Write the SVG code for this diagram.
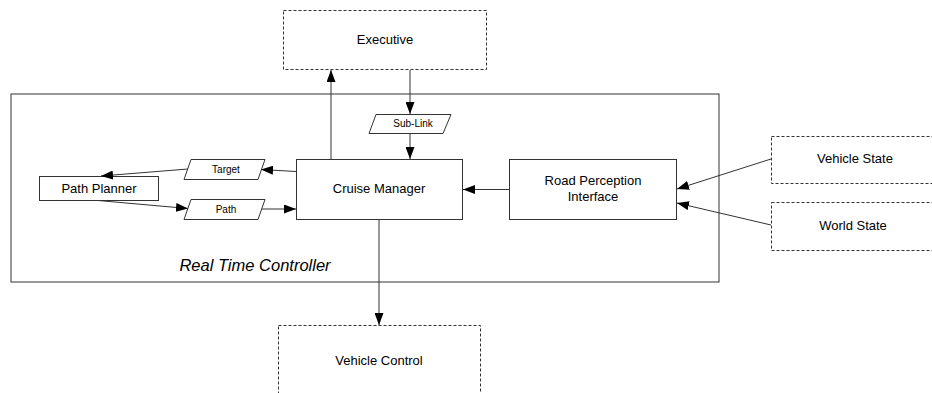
<svg xmlns="http://www.w3.org/2000/svg" width="932" height="393" viewBox="0 0 932 393">
<defs>
<marker id="ah" viewBox="0 0 12 9" refX="12" refY="4.5" markerWidth="12" markerHeight="9" markerUnits="userSpaceOnUse" orient="auto">
<path d="M0,0 L12,4.5 L0,9 Z" fill="#000"/>
</marker>
</defs>
<style>
.box{fill:#fff;stroke:#333;stroke-width:1}
.dash{fill:#fff;stroke:#333;stroke-width:1;stroke-dasharray:3,2}
.t{font-family:"Liberation Sans",Arial,sans-serif;font-size:13px;fill:#000;text-anchor:middle}
.s{font-family:"Liberation Sans",Arial,sans-serif;font-size:10px;fill:#000;text-anchor:middle}
.c{fill:none;stroke:#333;stroke-width:1;marker-end:url(#ah)}
</style>
<rect width="932" height="393" fill="#fff"/>
<g id="rtc">
<rect class="box" x="11" y="94" width="708" height="188"/>
<text class="t" x="255" y="271" style="font-size:16.5px;font-style:italic">Real Time Controller</text>
</g>
<g id="executive">
<rect class="dash" x="283.5" y="10.5" width="203" height="59"/>
<text class="t" x="385" y="44">Executive</text>
</g>
<g id="vehicle-control">
<rect class="dash" x="278.5" y="325.5" width="202" height="80"/>
<text class="t" x="379" y="365">Vehicle Control</text>
</g>
<g id="vehicle-state">
<rect class="dash" x="771.5" y="136.5" width="170" height="47"/>
<text class="t" x="855" y="163">Vehicle State</text>
</g>
<g id="world-state">
<rect class="dash" x="771.5" y="202.5" width="170" height="48"/>
<text class="t" x="853" y="230">World State</text>
</g>
<g id="cruise-manager">
<rect class="box" x="296.5" y="159.5" width="166" height="60"/>
<text class="t" x="379" y="193">Cruise Manager</text>
</g>
<g id="road-perception">
<rect class="box" x="509.5" y="159.5" width="167" height="60"/>
<text class="t" x="593" y="185">Road Perception</text>
<text class="t" x="593" y="201">Interface</text>
</g>
<g id="path-planner">
<rect class="box" x="39.5" y="176.5" width="119" height="24"/>
<text class="t" x="99" y="193">Path Planner</text>
</g>
<g id="sub-link">
<polygon class="box" points="369,133.5 376,114.5 451,114.5 443,133.5"/>
<text class="s" x="413" y="127">Sub-Link</text>
</g>
<g id="target">
<polygon class="box" points="184,179.5 191,159.5 265,159.5 258,179.5"/>
<text class="s" x="226" y="173">Target</text>
</g>
<g id="path">
<polygon class="box" points="184,219.5 191,199.5 265,199.5 258,219.5"/>
<text class="s" x="226" y="213">Path</text>
</g>
<g id="connectors">
<line class="c" x1="331" y1="159" x2="331" y2="70"/>
<line class="c" x1="410" y1="70" x2="410" y2="114"/>
<line class="c" x1="410" y1="134" x2="410" y2="159"/>
<line class="c" x1="296" y1="171.5" x2="261" y2="169.5"/>
<line class="c" x1="188" y1="169" x2="101" y2="176"/>
<line class="c" x1="98" y1="200.5" x2="188" y2="208.5"/>
<line class="c" x1="262" y1="209" x2="296" y2="209"/>
<line class="c" x1="509" y1="189.5" x2="463" y2="189.5"/>
<line class="c" x1="771" y1="159" x2="677" y2="189"/>
<line class="c" x1="771" y1="225" x2="677" y2="203"/>
<line class="c" x1="379" y1="220" x2="379" y2="325"/>
</g>
</svg>
